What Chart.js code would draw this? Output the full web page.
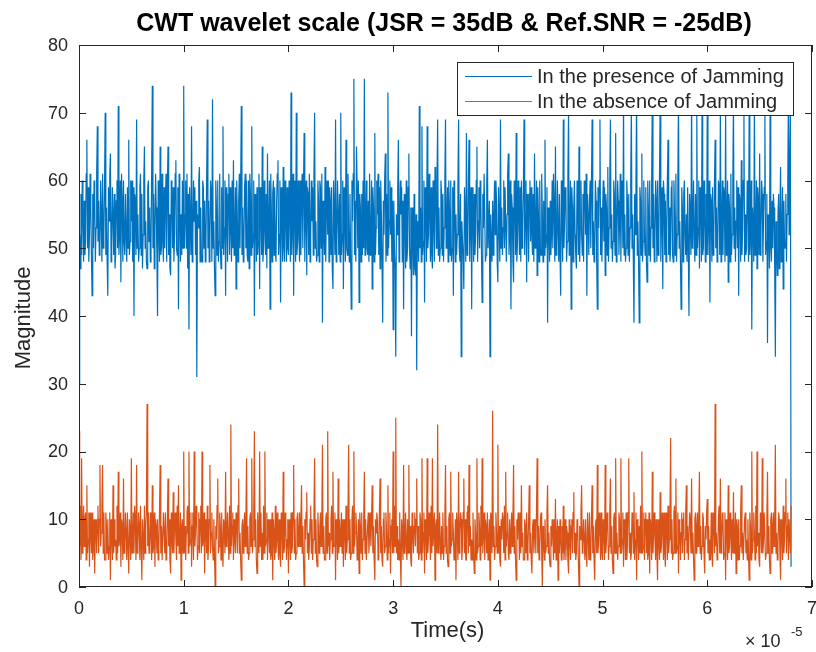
<!DOCTYPE html>
<html>
<head>
<meta charset="utf-8">
<script src="https://cdn.jsdelivr.net/npm/chart.js@4.4.1/dist/chart.umd.min.js"></script>
<style>
  html, body { margin: 0; padding: 0; background: #fff; }
  #wrap { width: 816px; height: 652px; position: relative; }
</style>
</head>
<body>
<div id="wrap"><canvas id="cwt"></canvas></div>
<script>
// samples are 0.00625e-5 s apart, starting at t = 0
const sampleStep = 0.00625e-5;
const xTicks = [0, 1, 2, 3, 4, 5, 6, 7];          // x 10^-5 s
const yTicks = [0, 10, 20, 30, 40, 50, 60, 70, 80];
const seriesNames = ['In the presence of Jamming', 'In the absence of Jamming'];

// magnitude with jamming (blue)
const withJamming = [
  30,52,47,58, 49,60,55,48, 57,49,51,61, 66,50,59,48, 52,61,56,49, 43,58,50,60, 58,48,53,61, 68,51,57,49, 50,60,55,48, 61,50,52,59,
  70,49,56,48, 43,59,54,61, 64,48,50,59, 55,49,58,47, 49,57,60,50, 71,49,52,60, 45,61,57,48, 60,51,49,58, 52,48,59,50, 66,49,51,60,
  54,60,48,59, 40,58,57,49, 69,50,55,48, 50,59,61,49, 58,47,52,60, 65,50,54,48, 47,59,60,51, 56,48,50,61, 74,50,58,47, 53,61,56,49,
  40,60,53,48, 65,49,50,61, 51,48,59,50, 57,61,48,59, 65,49,55,47, 46,60,58,50, 59,48,52,61, 63,50,49,59, 41,61,56,48, 55,49,60,50,
  74,50,55,60, 50,61,47,58, 38,59,54,49, 68,48,52,60, 54,59,49,57, 31,55,53,60, 62,48,56,49, 48,60,59,50, 57,48,51,60, 69,50,57,48,
  52,60,58,48, 72,50,54,47, 43,60,56,49, 60,48,51,61, 50,47,59,50, 68,49,53,60, 43,59,55,48, 58,61,49,59, 53,48,60,50, 63,49,52,59,
  44,60,54,48, 57,61,50,59, 71,49,56,48, 51,59,61,50, 60,49,48,60, 47,61,58,49, 68,50,52,60, 40,58,55,48, 59,49,51,61, 44,59,57,49,
  65,48,50,60, 53,49,58,47, 64,50,53,60, 41,61,55,48, 58,60,49,59, 50,48,57,61, 63,49,52,60, 42,59,56,48, 62,50,48,60, 55,48,59,50,
  49,60,56,48, 73,49,53,61, 43,60,57,48, 70,49,51,60, 52,48,60,49, 58,61,50,59, 67,48,55,60, 46,59,58,49, 61,48,52,60, 54,59,49,61,
  70,50,54,48, 49,60,57,48, 60,59,50,61, 39,57,53,49, 62,48,56,60, 52,60,48,59, 57,49,59,47, 44,60,55,49, 69,48,51,60, 55,49,58,48,
  70,49,52,60, 44,59,55,48, 66,50,49,61, 53,48,58,49, 41,60,54,61, 75,49,57,48, 65,59,50,60, 42,58,56,48, 58,49,60,50, 75,49,53,60,
  50,49,57,48, 61,49,51,60, 44,59,56,48, 67,49,53,60, 55,61,49,59, 47,60,55,48, 39,57,52,60, 64,48,58,49, 73,50,54,60, 52,59,48,57,
  38,57,50,47, 34,55,52,59, 66,48,54,60, 55,59,48,57, 41,58,55,47, 60,48,50,59, 64,50,47,56, 37,56,53,46, 58,47,46,55, 32,53,54,48,
  71,50,56,48, 68,49,51,60, 42,59,57,48, 68,50,52,61, 55,48,59,49, 47,60,54,48, 62,59,50,60, 69,49,56,48, 50,60,58,49, 58,48,53,60,
  69,50,53,59, 48,60,56,49, 60,48,50,59, 43,60,57,48, 55,49,52,60, 69,50,48,58, 34,54,51,49, 44,59,55,48, 67,49,50,60, 66,48,54,59,
  41,59,55,48, 58,49,52,60, 65,48,54,59, 50,60,57,49, 42,58,53,61, 61,48,49,59, 66,50,50,57, 34,55,51,48, 57,49,55,60, 52,60,57,48,
  45,59,54,48, 69,50,56,49, 53,60,50,59, 59,48,55,61, 64,49,52,60, 41,58,56,48, 45,60,58,49, 67,48,51,60, 55,49,59,48, 60,50,53,59,
  69,49,55,60, 45,58,57,48, 58,60,51,59, 52,49,58,48, 64,50,53,60, 46,59,55,48, 60,50,49,61, 55,48,57,49, 66,50,52,59, 39,56,54,48,
  57,49,52,60, 50,61,56,48, 65,49,50,60, 53,48,58,49, 43,60,55,48, 69,50,54,59, 58,48,51,61, 70,49,53,60, 41,59,56,48, 56,60,52,49,
  47,60,57,49, 65,48,53,60, 52,49,58,48, 60,59,52,61, 43,58,55,49, 57,60,50,59, 69,49,54,48, 50,60,57,48, 41,59,53,60, 69,49,56,48,
  55,60,51,59, 46,58,56,49, 62,48,53,60, 69,50,55,48, 51,60,58,49, 67,48,52,60, 57,49,54,61, 48,59,60,50, 72,49,55,48, 50,60,57,49,
  58,48,53,60, 71,50,55,48, 39,58,52,60, 72,49,54,48, 39,59,57,49, 64,48,51,60, 52,49,59,48, 45,60,56,49, 60,48,53,60, 72,50,58,48,
  51,60,57,48, 60,49,52,61, 71,48,55,59, 44,60,58,49, 57,48,53,60, 66,49,56,48, 50,59,60,49, 48,60,55,49, 61,48,52,60, 72,50,54,48,
  41,59,56,48, 58,60,52,49, 55,48,59,50, 40,58,55,49, 73,50,54,60, 52,48,58,49, 70,50,53,60, 47,59,57,48, 71,49,50,60, 55,48,58,49,
  72,49,55,60, 42,58,57,48, 59,49,52,60, 66,50,56,48, 51,60,59,49, 71,48,53,60, 49,59,58,48, 70,49,54,60, 45,58,56,48, 61,49,52,60,
  72,50,56,48, 54,60,50,59, 43,58,57,48, 63,49,53,60, 70,48,55,49, 50,60,58,48, 71,49,52,60, 38,56,54,48, 72,49,51,60, 47,59,57,49,
  64,49,52,60, 58,48,55,59, 70,49,51,58, 36,55,54,47, 71,50,48,57, 50,58,56,47, 34,54,50,46, 55,58,47,55, 62,48,53,59, 44,57,51,50,
  58,48,55,60, 73,52,62,71, 3
];

// magnitude without jamming (orange)
const withoutJamming = [
  23,6,12,4, 19,5,9,12, 6,10,11,4, 15,5,7,11, 3,11,8,5, 11,4,6,10, 2,9,10,5, 9,12,5,10, 18,6,8,12, 18,5,11,4,
  4,11,9,5, 10,4,6,11, 1,10,8,4, 15,5,10,6, 7,4,12,5, 17,6,7,11, 3,10,9,4, 16,5,6,11, 8,4,11,6, 2,10,8,4,
  19,5,7,11, 5,12,10,4, 18,5,6,11, 9,4,12,6, 1,10,7,4, 12,5,9,11, 27,6,11,5, 6,11,8,4, 15,5,6,11, 3,10,9,5,
  10,4,6,11, 18,5,9,4, 4,11,8,5, 11,4,5,10, 16,6,10,4, 2,11,7,5, 14,5,9,11, 7,4,12,6, 15,5,6,11, 1,9,10,5,
  20,5,9,4, 8,11,12,5, 20,6,7,11, 3,9,11,4, 20,6,8,12, 10,4,6,11, 5,10,12,5, 20,6,7,11, 2,10,9,5, 12,4,6,10,
  18,5,8,11, 6,4,10,5, 0,9,7,12, 16,5,6,11, 9,4,11,6, 3,10,9,5, 17,6,8,11, 7,4,12,5, 24,6,9,11, 4,10,7,5,
  11,10,5,12, 16,5,8,4, 1,9,10,5, 9,11,6,10, 19,5,9,4, 5,10,11,6, 19,5,7,11, 23,6,10,4, 2,11,8,5, 20,6,11,4,
  8,4,12,5, 20,6,7,11, 4,10,9,5, 10,4,5,11, 1,10,8,4, 12,5,7,11, 6,4,10,5, 3,11,9,4, 17,5,6,11, 9,4,7,10,
  2,10,8,4, 11,5,6,11, 18,5,10,4, 5,10,11,6, 8,11,6,10, 15,5,9,4, 0,10,7,11, 14,5,8,4, 6,10,12,5, 10,4,7,11,
  19,5,10,4, 3,11,8,5, 9,11,6,10, 21,5,9,4, 4,10,11,5, 23,6,8,4, 7,10,12,5, 17,6,6,11, 1,10,9,4, 16,5,10,6,
  8,11,5,10, 3,10,9,4, 12,5,7,11, 21,5,10,4, 5,10,12,5, 20,6,8,11, 9,4,6,10, 2,11,9,5, 11,4,7,10, 17,5,10,4,
  4,9,11,5, 8,11,6,10, 15,5,9,4, 1,10,8,11, 10,4,5,11, 16,5,9,4, 3,10,11,5, 6,11,8,4, 15,5,7,11, 2,9,10,5,
  20,5,12,6, 25,5,9,4, 7,4,11,5, 0,10,8,4, 18,5,7,11, 6,4,10,5, 18,5,9,4, 3,11,8,5, 9,11,6,10, 16,5,9,4,
  5,11,10,4, 19,5,8,11, 2,10,9,4, 19,5,7,11, 8,4,12,5, 19,6,6,11, 1,9,10,5, 24,5,8,11, 6,4,9,5, 11,4,6,10,
  18,5,9,4, 3,10,11,5, 17,6,7,11, 8,4,5,10, 1,11,9,4, 17,5,8,11, 10,4,6,11, 16,5,10,4, 4,11,12,5, 18,6,9,4,
  7,4,11,5, 2,10,8,4, 19,5,6,11, 9,4,12,6, 19,5,8,11, 4,10,9,5, 11,4,7,10, 1,11,10,5, 26,6,9,4, 6,11,8,5,
  21,5,9,4, 3,10,7,11, 10,5,12,4, 17,6,8,11, 5,4,10,5, 8,11,6,10, 18,5,9,4, 1,10,7,11, 9,4,11,5, 15,6,8,4,
  4,10,9,5, 11,4,6,10, 15,5,8,4, 2,9,10,5, 8,10,5,11, 19,5,9,4, 6,10,11,5, 0,9,7,4, 10,5,6,11, 15,5,8,4,
  3,9,6,10, 8,4,10,5, 13,4,7,10, 1,9,5,10, 7,4,9,5, 12,4,6,10, 4,9,8,4, 2,10,7,4, 9,10,5,11, 14,5,8,4,
  5,10,9,4, 0,9,7,11, 15,5,6,10, 7,4,10,5, 3,11,8,4, 11,4,5,10, 15,5,9,4, 1,9,10,5, 18,5,7,11, 8,4,11,5,
  4,10,8,4, 18,5,7,11, 10,4,6,11, 16,5,9,4, 2,10,11,5, 19,5,8,4, 6,11,10,5, 19,5,7,11, 3,10,9,4, 11,4,6,11,
  19,5,8,4, 5,11,10,5, 14,4,7,11, 1,10,9,4, 9,5,12,5, 20,5,6,11, 4,10,11,5, 10,4,5,11, 2,10,9,4, 17,5,8,11,
  7,4,10,5, 1,10,7,4, 14,5,6,11, 9,4,11,5, 3,11,9,4, 12,5,7,11, 22,5,10,4, 5,11,12,5, 16,5,6,11, 2,10,9,4,
  8,11,5,10, 11,4,7,11, 15,5,9,4, 4,11,10,5, 16,5,8,4, 1,10,11,5, 9,11,6,10, 17,5,9,4, 6,11,10,5, 2,9,7,11,
  13,5,9,4, 7,4,11,5, 3,11,10,5, 27,6,8,4, 5,10,12,5, 16,5,7,11, 10,4,5,11, 1,10,9,4, 15,5,6,11, 8,4,10,5,
  14,5,7,11, 2,10,9,4, 10,4,6,11, 15,5,8,4, 4,10,11,5, 7,4,10,5, 1,11,9,4, 20,5,7,11, 8,4,12,5, 20,6,8,4,
  3,11,10,5, 19,5,7,11, 11,4,5,10, 17,5,9,4, 2,10,11,5, 9,11,6,10, 21,5,8,4, 6,11,10,5, 1,10,9,4, 12,5,7,11,
  16,5,9,11, 4,10,10,5, 12
];

const colors = ['#0072BD', '#D95319'];
const axisColor = '#262626';
const fontFamily = '"Liberation Sans", Arial, Helvetica, sans-serif';

function toPoints(values) {
  return values.map((v, i) => ({ x: i * sampleStep, y: v }));
}

// matlab style box, inward ticks, labels, title and legend
const matlabFrame = {
  id: 'matlabFrame',
  afterDatasetsDraw(chart) {
    const ctx = chart.ctx;
    const { left, right, top, bottom } = chart.chartArea;
    const xs = chart.scales.x;
    const ys = chart.scales.y;
    ctx.save();

    // box
    ctx.strokeStyle = axisColor;
    ctx.lineWidth = 1;
    ctx.strokeRect(left + 0.5, top + 0.5, right - left - 1, bottom - top - 1);

    // ticks
    ctx.beginPath();
    xTicks.forEach(t => {
      const px = Math.round(xs.getPixelForValue(t * 1e-5)) + 0.5;
      ctx.moveTo(px, bottom); ctx.lineTo(px, bottom - 7);
      ctx.moveTo(px, top); ctx.lineTo(px, top + 7);
    });
    yTicks.forEach(t => {
      const py = Math.round(ys.getPixelForValue(t)) + 0.5;
      ctx.moveTo(left, py); ctx.lineTo(left + 7, py);
      ctx.moveTo(right, py); ctx.lineTo(right - 7, py);
    });
    ctx.stroke();

    // tick labels
    ctx.fillStyle = axisColor;
    ctx.font = `18px ${fontFamily}`;
    ctx.textAlign = 'center';
    ctx.textBaseline = 'middle';
    xTicks.forEach(t => {
      ctx.fillText(String(t), xs.getPixelForValue(t * 1e-5), bottom + 22);
    });
    ctx.textAlign = 'right';
    yTicks.forEach(t => {
      ctx.fillText(String(t), left - 11, ys.getPixelForValue(t) + 1);
    });

    // x10^-5
    ctx.textAlign = 'left';
    ctx.textBaseline = 'alphabetic';
    ctx.font = `18px ${fontFamily}`;
    ctx.fillText('\u00d7 10', 745, 647);
    ctx.font = `13px ${fontFamily}`;
    ctx.fillText('-5', 791, 636);

    // axis titles
    ctx.font = `22px ${fontFamily}`;
    ctx.textAlign = 'center';
    ctx.fillText('Time(s)', (left + right) / 2 + 2, 637);
    ctx.save();
    ctx.translate(30, 318);
    ctx.rotate(-Math.PI / 2);
    ctx.fillText('Magnitude', 0, 0);
    ctx.restore();

    // title
    ctx.fillStyle = '#000';
    ctx.font = `bold 25px ${fontFamily}`;
    ctx.fillText('CWT wavelet scale (JSR = 35dB & Ref.SNR = -25dB)', 444, 31);

    // legend
    const lx = 457, ly = 62, lw = 336, lh = 53;
    ctx.fillStyle = '#fff';
    ctx.fillRect(lx, ly, lw, lh);
    ctx.strokeStyle = axisColor;
    ctx.lineWidth = 1;
    ctx.strokeRect(lx + 0.5, ly + 0.5, lw, lh);
    ctx.font = `20px ${fontFamily}`;
    ctx.textAlign = 'left';
    ctx.textBaseline = 'middle';
    chart.data.datasets.forEach((ds, k) => {
      const rowY = ly + 14 + k * 25;
      ctx.strokeStyle = ds.borderColor;
      ctx.beginPath();
      ctx.moveTo(465, rowY + 0.5);
      ctx.lineTo(532, rowY + 0.5);
      ctx.stroke();
      ctx.fillStyle = axisColor;
      ctx.fillText(ds.label, 537, rowY + 1);
    });

    ctx.restore();
  }
};

const canvas = document.querySelector('#cwt');
new Chart(canvas, {
  type: 'line',
  data: {
    datasets: [
      {
        label: seriesNames[0],
        data: toPoints(withJamming),
        borderColor: colors[0],
        borderWidth: 1.2,
        pointRadius: 0,
        tension: 0,
        order: 1
      },
      {
        label: seriesNames[1],
        data: toPoints(withoutJamming),
        borderColor: colors[1],
        borderWidth: 1.2,
        pointRadius: 0,
        tension: 0,
        order: 0
      }
    ]
  },
  options: {
    responsive: true,
    maintainAspectRatio: false,
    animation: false,
    devicePixelRatio: 1,
    layout: { padding: { left: 79, top: 45, right: 4, bottom: 65 } },
    scales: {
      x: { type: 'linear', display: false, min: 0, max: 7e-5 },
      y: { display: false, min: 0, max: 80 }
    },
    plugins: {
      legend: { display: false },
      title: { display: false },
      tooltip: { enabled: false }
    }
  },
  plugins: [matlabFrame]
});
</script>
</body>
</html>
